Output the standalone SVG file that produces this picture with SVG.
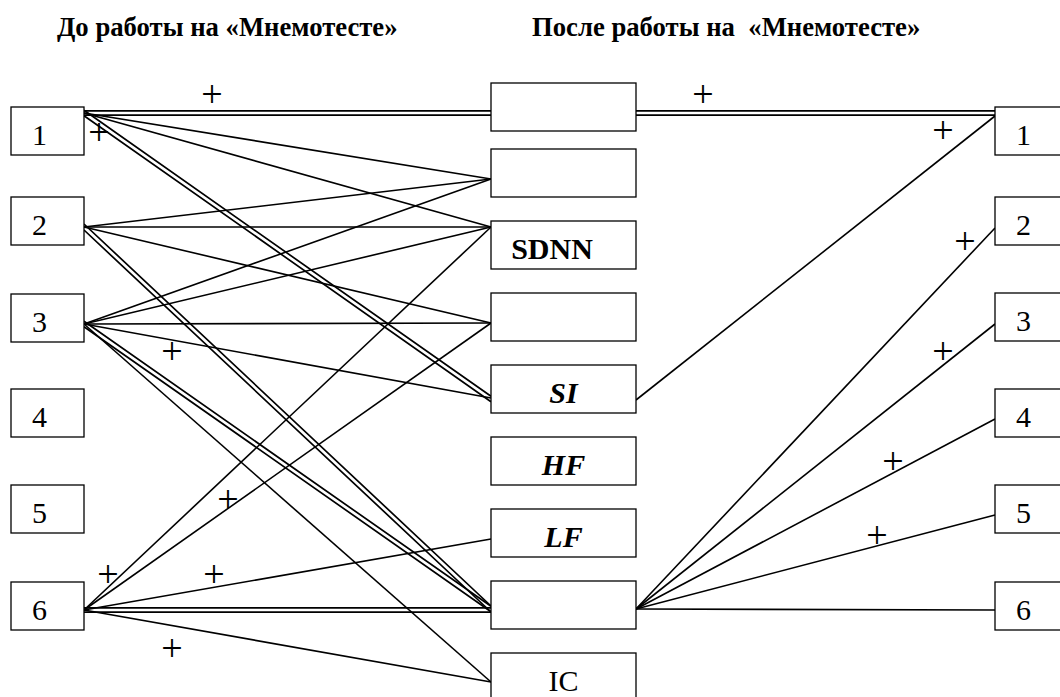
<svg xmlns="http://www.w3.org/2000/svg" width="1060" height="697" viewBox="0 0 1060 697">
<style>
.bg{fill:#fff}
.box{fill:#fff;stroke:#000;stroke-width:1.3}
.ln{fill:none;stroke:#000;stroke-width:1.6}
.dl{fill:none;stroke:#000;stroke-width:1.7}
.hd{font-family:"Liberation Serif","Times New Roman",serif;font-weight:bold;font-size:26.7px;fill:#000}
.lb{font-family:"Liberation Serif","Times New Roman",serif;font-size:30px;fill:#000}
.lbb{font-family:"Liberation Serif","Times New Roman",serif;font-size:30px;font-weight:bold;fill:#000}
.lbi{font-family:"Liberation Serif","Times New Roman",serif;font-size:30px;font-weight:bold;font-style:italic;fill:#000}
.pl{font-family:"Liberation Serif","Times New Roman",serif;font-size:38px;fill:#000;text-anchor:middle}
.mid{text-anchor:middle}
</style>
<rect class="bg" x="0" y="0" width="1060" height="697"/>
<text class="hd" x="57" y="36">До работы на «Мнемотесте»</text>
<text class="hd" x="532" y="36" xml:space="preserve">После работы на  «Мнемотесте»</text>

<g id="connectors">
  <path class="dl" d="M84,110.8 L491,110.8 M84,115.2 L491,115.2"/>
  <path class="dl" d="M636,110.8 L995,110.8 M636,115.2 L995,115.2"/>
  <path class="dl" d="M84,110.3 L491,396.3 M84,115.7 L491,401.7"/>
  <path class="dl" d="M84,224 L491,606 M84,230 L491,612"/>
  <path class="dl" d="M84,321.3 L491,606.3 M84,326.7 L491,611.7"/>
  <path class="dl" d="M84,607.8 L491,607.8 M84,612.2 L491,612.2"/>
  <path class="ln" d="M84,113 L491,179"/>
  <path class="ln" d="M84,113 L491,227"/>
  <path class="ln" d="M84,227 L491,179"/>
  <path class="ln" d="M84,227 L491,227"/>
  <path class="ln" d="M84,227 L491,323"/>
  <path class="ln" d="M84,324 L491,179"/>
  <path class="ln" d="M84,324 L491,227"/>
  <path class="ln" d="M84,324 L491,323"/>
  <path class="ln" d="M84,324 L491,398"/>
  <path class="ln" d="M84,324 L491,682"/>
  <path class="ln" d="M84,610 L491,227"/>
  <path class="ln" d="M84,610 L491,323"/>
  <path class="ln" d="M84,610 L491,539"/>
  <path class="ln" d="M84,610 L491,682"/>
  <path class="ln" d="M636,400 L995,116"/>
  <path class="ln" d="M636,609 L995,228"/>
  <path class="ln" d="M636,609 L995,324"/>
  <path class="ln" d="M636,609 L995,419"/>
  <path class="ln" d="M636,609 L995,515"/>
  <path class="ln" d="M636,609 L995,610"/>
  <text class="pl" x="212" y="107">+</text>
  <text class="pl" x="99" y="145">+</text>
  <text class="pl" x="703" y="107">+</text>
  <text class="pl" x="943" y="143">+</text>
  <text class="pl" x="965" y="254">+</text>
  <text class="pl" x="943" y="364">+</text>
  <text class="pl" x="893" y="474">+</text>
  <text class="pl" x="877" y="548">+</text>
  <text class="pl" x="172" y="364">+</text>
  <text class="pl" x="228" y="512">+</text>
  <text class="pl" x="108" y="587">+</text>
  <text class="pl" x="214" y="587">+</text>
  <text class="pl" x="172" y="661">+</text>
</g>

<g id="L1"><rect class="box" x="11" y="107" width="73" height="48"/><text class="lb" x="32" y="145">1</text></g>
<g id="L2"><rect class="box" x="11" y="197" width="73" height="48"/><text class="lb" x="32" y="235">2</text></g>
<g id="L3"><rect class="box" x="11" y="294" width="73" height="48"/><text class="lb" x="32" y="332">3</text></g>
<g id="L4"><rect class="box" x="11" y="389" width="73" height="48"/><text class="lb" x="32" y="427">4</text></g>
<g id="L5"><rect class="box" x="11" y="485" width="73" height="48"/><text class="lb" x="32" y="523">5</text></g>
<g id="L6"><rect class="box" x="11" y="582" width="73" height="48"/><text class="lb" x="32" y="620">6</text></g>

<g id="MA"><rect class="box" x="491" y="83" width="145" height="48"/></g>
<g id="MB"><rect class="box" x="491" y="149" width="145" height="48"/></g>
<g id="MSDNN"><rect class="box" x="491" y="221" width="145" height="48"/><text class="lbb mid" x="552" y="259">SDNN</text></g>
<g id="MD"><rect class="box" x="491" y="293" width="145" height="48"/></g>
<g id="MSI"><rect class="box" x="491" y="365" width="145" height="48"/><text class="lbi mid" x="563.5" y="403">SI</text></g>
<g id="MHF"><rect class="box" x="491" y="437" width="145" height="48"/><text class="lbi mid" x="563.5" y="475">HF</text></g>
<g id="MLF"><rect class="box" x="491" y="509" width="145" height="48"/><text class="lbi mid" x="563.5" y="547">LF</text></g>
<g id="MH"><rect class="box" x="491" y="581" width="145" height="48"/></g>
<g id="MIC"><rect class="box" x="491" y="653" width="145" height="48"/><text class="lb mid" x="563.5" y="691">IC</text></g>

<g id="R1"><rect class="box" x="995" y="107" width="73" height="48"/><text class="lb" x="1016" y="145">1</text></g>
<g id="R2"><rect class="box" x="995" y="197" width="73" height="48"/><text class="lb" x="1016" y="235">2</text></g>
<g id="R3"><rect class="box" x="995" y="293" width="73" height="48"/><text class="lb" x="1016" y="331">3</text></g>
<g id="R4"><rect class="box" x="995" y="389" width="73" height="48"/><text class="lb" x="1016" y="427">4</text></g>
<g id="R5"><rect class="box" x="995" y="485" width="73" height="48"/><text class="lb" x="1016" y="523">5</text></g>
<g id="R6"><rect class="box" x="995" y="582" width="73" height="48"/><text class="lb" x="1016" y="620">6</text></g>
</svg>
